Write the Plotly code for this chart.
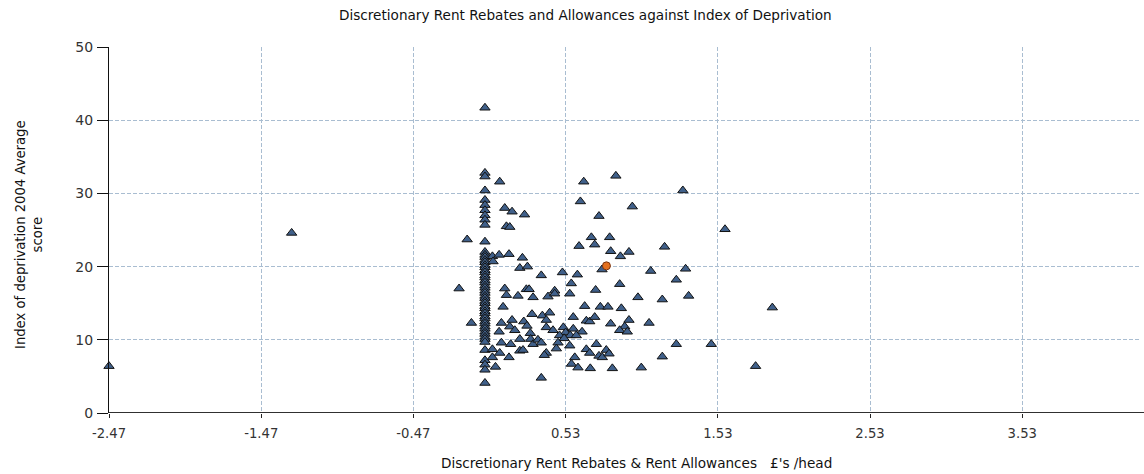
import plotly.graph_objects as go

# Councils reporting zero discretionary spend (x = 0.00 £/head)
zero_spend_y = [41.7, 32.8, 32.3, 30.4, 29.1, 28.4, 27.7, 27.0, 26.4, 25.7, 23.4,
                22.0, 21.6, 21.3, 20.9, 20.6, 20.2, 19.9, 19.5, 19.2, 18.8, 18.5,
                18.1, 17.8, 17.4, 17.1, 16.7, 16.4, 16.0, 15.7, 15.3, 15.0, 14.6,
                14.3, 13.9, 13.6, 13.2, 12.9, 12.5, 12.2, 11.8, 11.5, 11.1, 10.8,
                10.4, 10.1, 9.7, 8.6, 7.2, 6.6, 5.9, 4.1]

# Remaining councils: spend (£/head) and deprivation score
spend = [-2.47, -1.27, -0.17, -0.117, -0.089, 0.049, 0.053, 0.093, 0.158, 0.246,
         0.229, 0.279, 0.37, 0.097, 0.13, 0.178, 0.26, 0.141, 0.163, 0.13,
         0.141, 0.272, 0.29, 0.217, 0.316, 0.414, 0.119, 0.108, 0.178, 0.163,
         0.196, 0.093, 0.255, 0.276, 0.309, 0.377, 0.403, 0.298, 0.229, 0.30,
         0.316, 0.348, 0.37, 0.108, 0.169, 0.049, 0.229, 0.25, 0.097, 0.158,
         0.049, 0.069, 0.403, 0.37, 0.618, 0.721, 0.699, 0.819, 0.826, 0.89,
         0.946, 0.769, 0.509, 0.607, 0.567, 0.458, 0.458, 0.557, 0.727, 0.885,
         1.005, 0.655, 0.758, 0.808, 0.896, 0.425, 0.58, 0.666, 0.688, 0.721,
         0.826, 0.946, 0.918, 0.885, 0.935, 0.403, 0.447, 0.638, 0.515, 0.58,
         0.53, 0.56, 0.49, 0.52, 0.60, 0.48, 0.557, 0.469, 0.39, 0.666,
         0.688, 0.732, 0.749, 0.771, 0.797, 0.815, 0.59, 0.568, 0.611, 0.692,
         0.837, 1.18, 1.089, 1.318, 1.257, 1.165, 1.338, 1.078, 1.257, 1.487,
         1.165, 1.027, 0.86, 0.649, 1.30, 0.627, 0.968, 0.749, 1.577, 1.888,
         1.778]
score = [6.4, 24.6, 17.0, 23.7, 12.3, 21.4, 20.7, 21.6, 21.7, 21.2,
         19.8, 20.0, 18.8, 31.6, 28.0, 27.5, 27.1, 25.5, 25.4, 17.0,
         16.1, 16.9, 16.9, 16.0, 15.8, 15.9, 14.5, 12.3, 12.7, 11.8,
         11.3, 11.1, 12.5, 11.9, 13.5, 13.3, 12.7, 10.9, 10.1, 10.1,
         9.4, 10.0, 9.6, 9.6, 9.4, 8.7, 8.5, 8.6, 8.2, 7.6,
         7.6, 6.3, 8.2, 4.8, 22.8, 23.0, 24.0, 24.0, 22.1, 21.4,
         22.0, 19.6, 19.2, 18.9, 17.7, 16.7, 16.3, 16.3, 16.8, 17.6,
         15.8, 14.6, 14.5, 14.5, 14.3, 13.7, 13.1, 12.6, 12.5, 13.1,
         12.2, 12.7, 11.8, 11.3, 11.1, 11.7, 11.3, 11.1, 11.7, 11.5,
         11.0, 10.6, 10.6, 10.2, 10.6, 9.6, 9.2, 8.8, 7.9, 8.7,
         8.2, 9.4, 7.8, 7.6, 8.6, 8.1, 7.6, 6.7, 6.2, 6.1,
         6.1, 22.7, 19.4, 19.7, 18.2, 15.5, 16.0, 12.3, 9.4, 9.4,
         7.7, 6.2, 32.4, 31.6, 30.4, 28.9, 28.2, 26.9, 25.1, 14.4,
         6.4]

# Highlighted council
highlight_x = [0.798]
highlight_y = [20.1]

x_ticks = [-2.47, -1.47, -0.47, 0.53, 1.53, 2.53, 3.53]
y_ticks = [0, 10, 20, 30, 40, 50]

FONT = "DejaVu Sans, Verdana, sans-serif"
GRID = "#a9bdd1"

fig = go.Figure()

tri = dict(symbol="triangle-up", size=9, color="#40608a",
           line=dict(color="#121212", width=1))

fig.add_trace(go.Scatter(x=[0.0] * len(zero_spend_y), y=zero_spend_y, mode="markers",
                         marker=tri, cliponaxis=False, showlegend=False))
fig.add_trace(go.Scatter(x=spend, y=score, mode="markers",
                         marker=tri, cliponaxis=False, showlegend=False))
fig.add_trace(go.Scatter(x=highlight_x, y=highlight_y, mode="markers",
                         marker=dict(symbol="circle", size=8, color="#e3701f",
                                     line=dict(color="#7a3510", width=1)),
                         cliponaxis=False, showlegend=False))

fig.update_layout(
    width=1144, height=474,
    margin=dict(l=109, r=3, t=47, b=61),
    paper_bgcolor="white", plot_bgcolor="white",
    font=dict(family=FONT, size=13, color="#333333"),
    xaxis=dict(range=[-2.47, 4.31], tickmode="array", tickvals=x_ticks,
               ticktext=[f"{v:.2f}" for v in x_ticks],
               showgrid=True, gridcolor=GRID, griddash="4px,2px", gridwidth=1,
               zeroline=False, showline=False,
               ticks="outside", ticklen=4, tickcolor="#222", tickwidth=1,
               ticklabelstandoff=4,
               tickfont=dict(size=13.2, color="#333333")),
    yaxis=dict(range=[0, 50], tickmode="array", tickvals=y_ticks,
               showgrid=True, gridcolor=GRID, griddash="4px,2px", gridwidth=1,
               zeroline=False, showline=True, linecolor="#111", linewidth=1,
               ticks="outside", ticklen=11, tickcolor="#111", tickwidth=1,
               ticklabelstandoff=1,
               tickfont=dict(size=14, color="#333333")),
    shapes=[
        # heavy baseline along y = 0 with a soft shadow beneath it
        dict(type="line", xref="paper", yref="y", ysizemode="pixel", yanchor=0,
             x0=0, x1=1.003, y0=-2, y1=-2,
             line=dict(color="#bdbdbd", width=2), layer="above"),
        dict(type="line", xref="paper", yref="y", x0=0, x1=1.003, y0=0, y1=0,
             line=dict(color="#303030", width=2), layer="above"),
    ],
    annotations=[
        dict(text="Discretionary Rent Rebates and Allowances against Index of Deprivation",
             xref="paper", yref="paper", x=0.4617, y=1.0,
             yshift=32, xanchor="center", yanchor="middle", showarrow=False,
             font=dict(size=13.6, color="#111111")),
        dict(text="Discretionary Rent Rebates &amp; Rent Allowances \u00a0\u00a0£'s /head",
             xref="paper", yref="paper", x=0.5107, y=0, yshift=-50,
             xanchor="center", yanchor="middle", showarrow=False,
             font=dict(size=13.6, color="#111111")),
        dict(text="Index of deprivation 2004 Average<br>score",
             xref="paper", yref="paper", x=0, xshift=-80, y=0.5, yshift=-5,
             xanchor="center", yanchor="middle", showarrow=False, textangle=-90,
             font=dict(size=13.2, color="#111111")),
    ],
)

fig.write_html("out.html")
